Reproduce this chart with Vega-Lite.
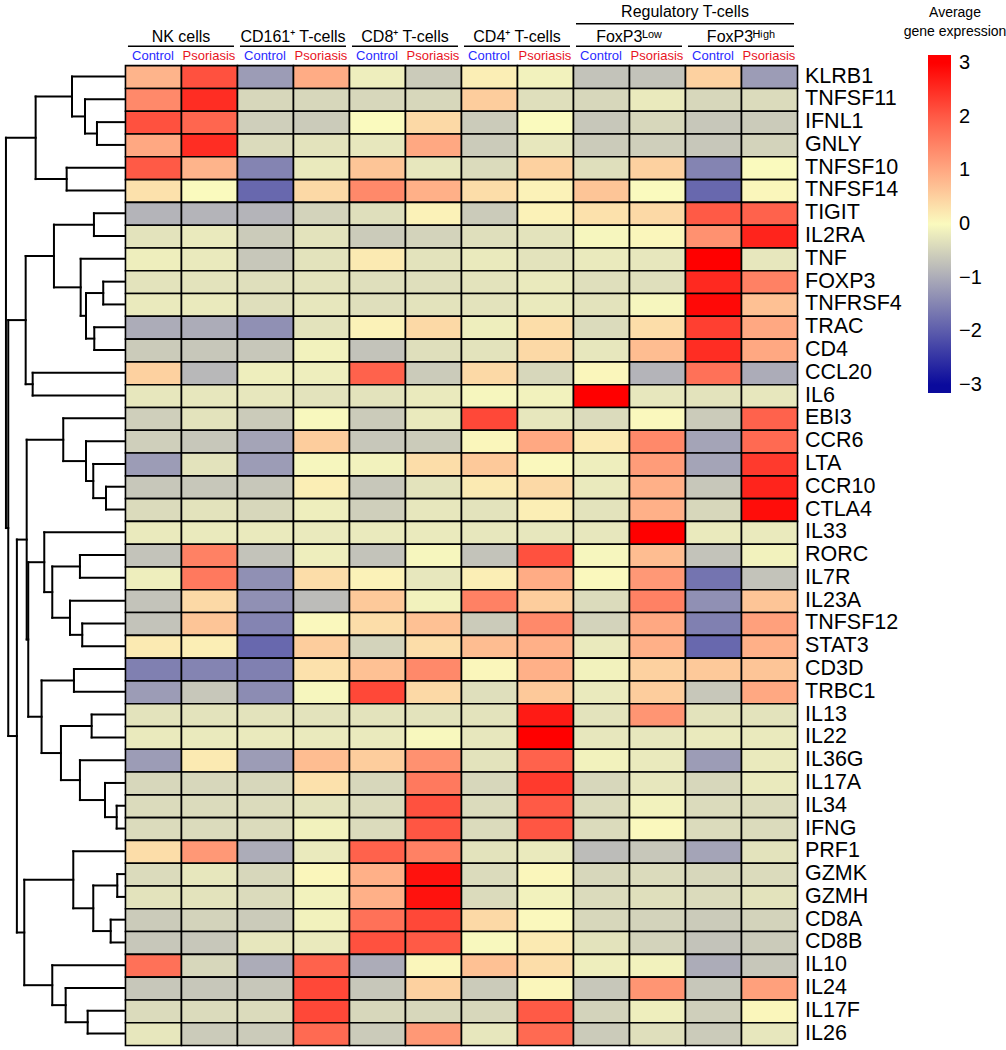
{
 "$schema": "https://vega.github.io/schema/vega-lite/v6.json",
 "width": 793,
 "height": 1045,
 "autosize": {"type": "none"},
 "padding": {"left": 4, "top": 0, "right": 209, "bottom": 5},
 "config": {"view": {"stroke": null}, "font": "Liberation Sans", "text": {"font": "Liberation Sans"}},
 "datasets": {
  "cells": [
{"gene":"KLRB1","row":0,"col":0,"value":0.85},{"gene":"KLRB1","row":0,"col":1,"value":2.1},{"gene":"KLRB1","row":0,"col":2,"value":-1.2},{"gene":"KLRB1","row":0,"col":3,"value":0.95},{"gene":"KLRB1","row":0,"col":4,"value":-0.15},{"gene":"KLRB1","row":0,"col":5,"value":-0.6},{"gene":"KLRB1","row":0,"col":6,"value":0.15},{"gene":"KLRB1","row":0,"col":7,"value":-0.1},{"gene":"KLRB1","row":0,"col":8,"value":-0.7},{"gene":"KLRB1","row":0,"col":9,"value":-0.7},{"gene":"KLRB1","row":0,"col":10,"value":0.5},{"gene":"KLRB1","row":0,"col":11,"value":-1.2},
{"gene":"TNFSF11","row":1,"col":0,"value":1.4},{"gene":"TNFSF11","row":1,"col":1,"value":2.5},{"gene":"TNFSF11","row":1,"col":2,"value":-0.45},{"gene":"TNFSF11","row":1,"col":3,"value":-0.45},{"gene":"TNFSF11","row":1,"col":4,"value":-0.45},{"gene":"TNFSF11","row":1,"col":5,"value":-0.45},{"gene":"TNFSF11","row":1,"col":6,"value":0.55},{"gene":"TNFSF11","row":1,"col":7,"value":-0.35},{"gene":"TNFSF11","row":1,"col":8,"value":-0.45},{"gene":"TNFSF11","row":1,"col":9,"value":-0.2},{"gene":"TNFSF11","row":1,"col":10,"value":-0.45},{"gene":"TNFSF11","row":1,"col":11,"value":-0.4},
{"gene":"IFNL1","row":2,"col":0,"value":2.1},{"gene":"IFNL1","row":2,"col":1,"value":1.85},{"gene":"IFNL1","row":2,"col":2,"value":-0.55},{"gene":"IFNL1","row":2,"col":3,"value":-0.6},{"gene":"IFNL1","row":2,"col":4,"value":0.0},{"gene":"IFNL1","row":2,"col":5,"value":0.4},{"gene":"IFNL1","row":2,"col":6,"value":-0.6},{"gene":"IFNL1","row":2,"col":7,"value":0.0},{"gene":"IFNL1","row":2,"col":8,"value":-0.65},{"gene":"IFNL1","row":2,"col":9,"value":-0.45},{"gene":"IFNL1","row":2,"col":10,"value":-0.65},{"gene":"IFNL1","row":2,"col":11,"value":-0.6},
{"gene":"GNLY","row":3,"col":0,"value":1.0},{"gene":"GNLY","row":3,"col":1,"value":2.5},{"gene":"GNLY","row":3,"col":2,"value":-0.4},{"gene":"GNLY","row":3,"col":3,"value":-0.3},{"gene":"GNLY","row":3,"col":4,"value":-0.25},{"gene":"GNLY","row":3,"col":5,"value":1.0},{"gene":"GNLY","row":3,"col":6,"value":-0.6},{"gene":"GNLY","row":3,"col":7,"value":-0.25},{"gene":"GNLY","row":3,"col":8,"value":-0.6},{"gene":"GNLY","row":3,"col":9,"value":-0.55},{"gene":"GNLY","row":3,"col":10,"value":-0.65},{"gene":"GNLY","row":3,"col":11,"value":-0.5},
{"gene":"TNFSF10","row":4,"col":0,"value":2.0},{"gene":"TNFSF10","row":4,"col":1,"value":0.85},{"gene":"TNFSF10","row":4,"col":2,"value":-1.5},{"gene":"TNFSF10","row":4,"col":3,"value":-0.2},{"gene":"TNFSF10","row":4,"col":4,"value":0.65},{"gene":"TNFSF10","row":4,"col":5,"value":-0.25},{"gene":"TNFSF10","row":4,"col":6,"value":-0.4},{"gene":"TNFSF10","row":4,"col":7,"value":0.5},{"gene":"TNFSF10","row":4,"col":8,"value":-0.35},{"gene":"TNFSF10","row":4,"col":9,"value":0.5},{"gene":"TNFSF10","row":4,"col":10,"value":-1.5},{"gene":"TNFSF10","row":4,"col":11,"value":0.0},
{"gene":"TNFSF14","row":5,"col":0,"value":0.3},{"gene":"TNFSF14","row":5,"col":1,"value":0.0},{"gene":"TNFSF14","row":5,"col":2,"value":-1.85},{"gene":"TNFSF14","row":5,"col":3,"value":0.4},{"gene":"TNFSF14","row":5,"col":4,"value":1.4},{"gene":"TNFSF14","row":5,"col":5,"value":0.9},{"gene":"TNFSF14","row":5,"col":6,"value":0.35},{"gene":"TNFSF14","row":5,"col":7,"value":0.1},{"gene":"TNFSF14","row":5,"col":8,"value":0.65},{"gene":"TNFSF14","row":5,"col":9,"value":0.0},{"gene":"TNFSF14","row":5,"col":10,"value":-1.85},{"gene":"TNFSF14","row":5,"col":11,"value":0.05},
{"gene":"TIGIT","row":6,"col":0,"value":-0.9},{"gene":"TIGIT","row":6,"col":1,"value":-0.9},{"gene":"TIGIT","row":6,"col":2,"value":-0.9},{"gene":"TIGIT","row":6,"col":3,"value":-0.5},{"gene":"TIGIT","row":6,"col":4,"value":-0.35},{"gene":"TIGIT","row":6,"col":5,"value":0.1},{"gene":"TIGIT","row":6,"col":6,"value":-0.6},{"gene":"TIGIT","row":6,"col":7,"value":0.1},{"gene":"TIGIT","row":6,"col":8,"value":0.3},{"gene":"TIGIT","row":6,"col":9,"value":0.4},{"gene":"TIGIT","row":6,"col":10,"value":2.0},{"gene":"TIGIT","row":6,"col":11,"value":1.9},
{"gene":"IL2RA","row":7,"col":0,"value":-0.3},{"gene":"IL2RA","row":7,"col":1,"value":-0.2},{"gene":"IL2RA","row":7,"col":2,"value":-0.6},{"gene":"IL2RA","row":7,"col":3,"value":-0.3},{"gene":"IL2RA","row":7,"col":4,"value":-0.6},{"gene":"IL2RA","row":7,"col":5,"value":-0.5},{"gene":"IL2RA","row":7,"col":6,"value":-0.35},{"gene":"IL2RA","row":7,"col":7,"value":-0.3},{"gene":"IL2RA","row":7,"col":8,"value":-0.05},{"gene":"IL2RA","row":7,"col":9,"value":0.05},{"gene":"IL2RA","row":7,"col":10,"value":1.3},{"gene":"IL2RA","row":7,"col":11,"value":2.6},
{"gene":"TNF","row":8,"col":0,"value":-0.15},{"gene":"TNF","row":8,"col":1,"value":-0.2},{"gene":"TNF","row":8,"col":2,"value":-0.65},{"gene":"TNF","row":8,"col":3,"value":-0.3},{"gene":"TNF","row":8,"col":4,"value":0.2},{"gene":"TNF","row":8,"col":5,"value":-0.3},{"gene":"TNF","row":8,"col":6,"value":-0.2},{"gene":"TNF","row":8,"col":7,"value":-0.3},{"gene":"TNF","row":8,"col":8,"value":-0.2},{"gene":"TNF","row":8,"col":9,"value":-0.25},{"gene":"TNF","row":8,"col":10,"value":3.0},{"gene":"TNF","row":8,"col":11,"value":-0.25},
{"gene":"FOXP3","row":9,"col":0,"value":-0.3},{"gene":"FOXP3","row":9,"col":1,"value":-0.3},{"gene":"FOXP3","row":9,"col":2,"value":-0.35},{"gene":"FOXP3","row":9,"col":3,"value":-0.3},{"gene":"FOXP3","row":9,"col":4,"value":-0.35},{"gene":"FOXP3","row":9,"col":5,"value":-0.35},{"gene":"FOXP3","row":9,"col":6,"value":-0.3},{"gene":"FOXP3","row":9,"col":7,"value":-0.2},{"gene":"FOXP3","row":9,"col":8,"value":-0.35},{"gene":"FOXP3","row":9,"col":9,"value":-0.35},{"gene":"FOXP3","row":9,"col":10,"value":2.55},{"gene":"FOXP3","row":9,"col":11,"value":1.5},
{"gene":"TNFRSF4","row":10,"col":0,"value":-0.2},{"gene":"TNFRSF4","row":10,"col":1,"value":-0.2},{"gene":"TNFRSF4","row":10,"col":2,"value":-0.35},{"gene":"TNFRSF4","row":10,"col":3,"value":-0.25},{"gene":"TNFRSF4","row":10,"col":4,"value":-0.35},{"gene":"TNFRSF4","row":10,"col":5,"value":-0.3},{"gene":"TNFRSF4","row":10,"col":6,"value":-0.3},{"gene":"TNFRSF4","row":10,"col":7,"value":-0.2},{"gene":"TNFRSF4","row":10,"col":8,"value":-0.3},{"gene":"TNFRSF4","row":10,"col":9,"value":-0.05},{"gene":"TNFRSF4","row":10,"col":10,"value":2.9},{"gene":"TNFRSF4","row":10,"col":11,"value":0.7},
{"gene":"TRAC","row":11,"col":0,"value":-1.0},{"gene":"TRAC","row":11,"col":1,"value":-1.0},{"gene":"TRAC","row":11,"col":2,"value":-1.35},{"gene":"TRAC","row":11,"col":3,"value":-0.3},{"gene":"TRAC","row":11,"col":4,"value":0.1},{"gene":"TRAC","row":11,"col":5,"value":0.4},{"gene":"TRAC","row":11,"col":6,"value":-0.15},{"gene":"TRAC","row":11,"col":7,"value":0.35},{"gene":"TRAC","row":11,"col":8,"value":-0.4},{"gene":"TRAC","row":11,"col":9,"value":0.35},{"gene":"TRAC","row":11,"col":10,"value":2.3},{"gene":"TRAC","row":11,"col":11,"value":1.0},
{"gene":"CD4","row":12,"col":0,"value":-0.6},{"gene":"CD4","row":12,"col":1,"value":-0.65},{"gene":"CD4","row":12,"col":2,"value":-0.65},{"gene":"CD4","row":12,"col":3,"value":-0.1},{"gene":"CD4","row":12,"col":4,"value":-0.7},{"gene":"CD4","row":12,"col":5,"value":-0.35},{"gene":"CD4","row":12,"col":6,"value":-0.3},{"gene":"CD4","row":12,"col":7,"value":0.4},{"gene":"CD4","row":12,"col":8,"value":-0.25},{"gene":"CD4","row":12,"col":9,"value":0.75},{"gene":"CD4","row":12,"col":10,"value":2.5},{"gene":"CD4","row":12,"col":11,"value":1.0},
{"gene":"CCL20","row":13,"col":0,"value":0.5},{"gene":"CCL20","row":13,"col":1,"value":-0.85},{"gene":"CCL20","row":13,"col":2,"value":-0.15},{"gene":"CCL20","row":13,"col":3,"value":-0.15},{"gene":"CCL20","row":13,"col":4,"value":1.9},{"gene":"CCL20","row":13,"col":5,"value":-0.6},{"gene":"CCL20","row":13,"col":6,"value":0.4},{"gene":"CCL20","row":13,"col":7,"value":-0.45},{"gene":"CCL20","row":13,"col":8,"value":0.05},{"gene":"CCL20","row":13,"col":9,"value":-0.9},{"gene":"CCL20","row":13,"col":10,"value":1.7},{"gene":"CCL20","row":13,"col":11,"value":-1.0},
{"gene":"IL6","row":14,"col":0,"value":-0.25},{"gene":"IL6","row":14,"col":1,"value":-0.25},{"gene":"IL6","row":14,"col":2,"value":-0.25},{"gene":"IL6","row":14,"col":3,"value":-0.3},{"gene":"IL6","row":14,"col":4,"value":-0.3},{"gene":"IL6","row":14,"col":5,"value":-0.2},{"gene":"IL6","row":14,"col":6,"value":-0.05},{"gene":"IL6","row":14,"col":7,"value":-0.1},{"gene":"IL6","row":14,"col":8,"value":3.0},{"gene":"IL6","row":14,"col":9,"value":-0.25},{"gene":"IL6","row":14,"col":10,"value":-0.3},{"gene":"IL6","row":14,"col":11,"value":-0.25},
{"gene":"EBI3","row":15,"col":0,"value":-0.55},{"gene":"EBI3","row":15,"col":1,"value":-0.3},{"gene":"EBI3","row":15,"col":2,"value":-0.6},{"gene":"EBI3","row":15,"col":3,"value":-0.02},{"gene":"EBI3","row":15,"col":4,"value":-0.6},{"gene":"EBI3","row":15,"col":5,"value":-0.2},{"gene":"EBI3","row":15,"col":6,"value":2.2},{"gene":"EBI3","row":15,"col":7,"value":-0.25},{"gene":"EBI3","row":15,"col":8,"value":-0.4},{"gene":"EBI3","row":15,"col":9,"value":0.02},{"gene":"EBI3","row":15,"col":10,"value":-0.6},{"gene":"EBI3","row":15,"col":11,"value":1.9},
{"gene":"CCR6","row":16,"col":0,"value":-0.55},{"gene":"CCR6","row":16,"col":1,"value":-0.65},{"gene":"CCR6","row":16,"col":2,"value":-1.1},{"gene":"CCR6","row":16,"col":3,"value":0.55},{"gene":"CCR6","row":16,"col":4,"value":-0.65},{"gene":"CCR6","row":16,"col":5,"value":-0.6},{"gene":"CCR6","row":16,"col":6,"value":0.05},{"gene":"CCR6","row":16,"col":7,"value":1.0},{"gene":"CCR6","row":16,"col":8,"value":0.2},{"gene":"CCR6","row":16,"col":9,"value":1.4},{"gene":"CCR6","row":16,"col":10,"value":-1.1},{"gene":"CCR6","row":16,"col":11,"value":1.8},
{"gene":"LTA","row":17,"col":0,"value":-1.2},{"gene":"LTA","row":17,"col":1,"value":-0.3},{"gene":"LTA","row":17,"col":2,"value":-1.2},{"gene":"LTA","row":17,"col":3,"value":-0.05},{"gene":"LTA","row":17,"col":4,"value":-0.1},{"gene":"LTA","row":17,"col":5,"value":0.35},{"gene":"LTA","row":17,"col":6,"value":0.6},{"gene":"LTA","row":17,"col":7,"value":0.02},{"gene":"LTA","row":17,"col":8,"value":-0.15},{"gene":"LTA","row":17,"col":9,"value":1.15},{"gene":"LTA","row":17,"col":10,"value":-1.1},{"gene":"LTA","row":17,"col":11,"value":2.35},
{"gene":"CCR10","row":18,"col":0,"value":-0.65},{"gene":"CCR10","row":18,"col":1,"value":-0.65},{"gene":"CCR10","row":18,"col":2,"value":-0.65},{"gene":"CCR10","row":18,"col":3,"value":0.15},{"gene":"CCR10","row":18,"col":4,"value":-0.65},{"gene":"CCR10","row":18,"col":5,"value":-0.3},{"gene":"CCR10","row":18,"col":6,"value":0.2},{"gene":"CCR10","row":18,"col":7,"value":0.4},{"gene":"CCR10","row":18,"col":8,"value":-0.2},{"gene":"CCR10","row":18,"col":9,"value":0.9},{"gene":"CCR10","row":18,"col":10,"value":-0.65},{"gene":"CCR10","row":18,"col":11,"value":2.6},
{"gene":"CTLA4","row":19,"col":0,"value":-0.4},{"gene":"CTLA4","row":19,"col":1,"value":-0.3},{"gene":"CTLA4","row":19,"col":2,"value":-0.45},{"gene":"CTLA4","row":19,"col":3,"value":-0.15},{"gene":"CTLA4","row":19,"col":4,"value":-0.55},{"gene":"CTLA4","row":19,"col":5,"value":-0.25},{"gene":"CTLA4","row":19,"col":6,"value":-0.3},{"gene":"CTLA4","row":19,"col":7,"value":0.15},{"gene":"CTLA4","row":19,"col":8,"value":-0.3},{"gene":"CTLA4","row":19,"col":9,"value":0.9},{"gene":"CTLA4","row":19,"col":10,"value":-0.45},{"gene":"CTLA4","row":19,"col":11,"value":2.85},
{"gene":"IL33","row":20,"col":0,"value":-0.2},{"gene":"IL33","row":20,"col":1,"value":-0.2},{"gene":"IL33","row":20,"col":2,"value":-0.2},{"gene":"IL33","row":20,"col":3,"value":-0.2},{"gene":"IL33","row":20,"col":4,"value":-0.2},{"gene":"IL33","row":20,"col":5,"value":-0.2},{"gene":"IL33","row":20,"col":6,"value":-0.25},{"gene":"IL33","row":20,"col":7,"value":-0.25},{"gene":"IL33","row":20,"col":8,"value":-0.25},{"gene":"IL33","row":20,"col":9,"value":3.0},{"gene":"IL33","row":20,"col":10,"value":-0.2},{"gene":"IL33","row":20,"col":11,"value":-0.2},
{"gene":"RORC","row":21,"col":0,"value":-0.7},{"gene":"RORC","row":21,"col":1,"value":1.5},{"gene":"RORC","row":21,"col":2,"value":-0.7},{"gene":"RORC","row":21,"col":3,"value":-0.15},{"gene":"RORC","row":21,"col":4,"value":-0.7},{"gene":"RORC","row":21,"col":5,"value":-0.05},{"gene":"RORC","row":21,"col":6,"value":-0.7},{"gene":"RORC","row":21,"col":7,"value":2.1},{"gene":"RORC","row":21,"col":8,"value":-0.05},{"gene":"RORC","row":21,"col":9,"value":0.75},{"gene":"RORC","row":21,"col":10,"value":-0.7},{"gene":"RORC","row":21,"col":11,"value":-0.1},
{"gene":"IL7R","row":22,"col":0,"value":-0.15},{"gene":"IL7R","row":22,"col":1,"value":1.6},{"gene":"IL7R","row":22,"col":2,"value":-1.35},{"gene":"IL7R","row":22,"col":3,"value":0.35},{"gene":"IL7R","row":22,"col":4,"value":0.1},{"gene":"IL7R","row":22,"col":5,"value":-0.25},{"gene":"IL7R","row":22,"col":6,"value":0.15},{"gene":"IL7R","row":22,"col":7,"value":0.95},{"gene":"IL7R","row":22,"col":8,"value":0.02},{"gene":"IL7R","row":22,"col":9,"value":1.2},{"gene":"IL7R","row":22,"col":10,"value":-1.7},{"gene":"IL7R","row":22,"col":11,"value":-0.7},
{"gene":"IL23A","row":23,"col":0,"value":-0.7},{"gene":"IL23A","row":23,"col":1,"value":0.4},{"gene":"IL23A","row":23,"col":2,"value":-1.35},{"gene":"IL23A","row":23,"col":3,"value":-0.8},{"gene":"IL23A","row":23,"col":4,"value":0.6},{"gene":"IL23A","row":23,"col":5,"value":-0.1},{"gene":"IL23A","row":23,"col":6,"value":1.5},{"gene":"IL23A","row":23,"col":7,"value":0.55},{"gene":"IL23A","row":23,"col":8,"value":-0.4},{"gene":"IL23A","row":23,"col":9,"value":1.5},{"gene":"IL23A","row":23,"col":10,"value":-1.35},{"gene":"IL23A","row":23,"col":11,"value":0.65},
{"gene":"TNFSF12","row":24,"col":0,"value":-0.7},{"gene":"TNFSF12","row":24,"col":1,"value":0.65},{"gene":"TNFSF12","row":24,"col":2,"value":-1.5},{"gene":"TNFSF12","row":24,"col":3,"value":0.02},{"gene":"TNFSF12","row":24,"col":4,"value":0.35},{"gene":"TNFSF12","row":24,"col":5,"value":0.7},{"gene":"TNFSF12","row":24,"col":6,"value":-0.6},{"gene":"TNFSF12","row":24,"col":7,"value":1.4},{"gene":"TNFSF12","row":24,"col":8,"value":-0.5},{"gene":"TNFSF12","row":24,"col":9,"value":1.0},{"gene":"TNFSF12","row":24,"col":10,"value":-1.55},{"gene":"TNFSF12","row":24,"col":11,"value":1.1},
{"gene":"STAT3","row":25,"col":0,"value":0.2},{"gene":"STAT3","row":25,"col":1,"value":0.15},{"gene":"STAT3","row":25,"col":2,"value":-1.85},{"gene":"STAT3","row":25,"col":3,"value":0.55},{"gene":"STAT3","row":25,"col":4,"value":-0.5},{"gene":"STAT3","row":25,"col":5,"value":0.35},{"gene":"STAT3","row":25,"col":6,"value":0.75},{"gene":"STAT3","row":25,"col":7,"value":0.9},{"gene":"STAT3","row":25,"col":8,"value":-0.2},{"gene":"STAT3","row":25,"col":9,"value":0.9},{"gene":"STAT3","row":25,"col":10,"value":-1.85},{"gene":"STAT3","row":25,"col":11,"value":0.9},
{"gene":"CD3D","row":26,"col":0,"value":-1.55},{"gene":"CD3D","row":26,"col":1,"value":-1.5},{"gene":"CD3D","row":26,"col":2,"value":-1.55},{"gene":"CD3D","row":26,"col":3,"value":0.3},{"gene":"CD3D","row":26,"col":4,"value":0.7},{"gene":"CD3D","row":26,"col":5,"value":1.4},{"gene":"CD3D","row":26,"col":6,"value":0.05},{"gene":"CD3D","row":26,"col":7,"value":0.9},{"gene":"CD3D","row":26,"col":8,"value":-0.1},{"gene":"CD3D","row":26,"col":9,"value":0.5},{"gene":"CD3D","row":26,"col":10,"value":0.6},{"gene":"CD3D","row":26,"col":11,"value":0.65},
{"gene":"TRBC1","row":27,"col":0,"value":-1.2},{"gene":"TRBC1","row":27,"col":1,"value":-0.65},{"gene":"TRBC1","row":27,"col":2,"value":-1.4},{"gene":"TRBC1","row":27,"col":3,"value":-0.05},{"gene":"TRBC1","row":27,"col":4,"value":2.2},{"gene":"TRBC1","row":27,"col":5,"value":0.4},{"gene":"TRBC1","row":27,"col":6,"value":-0.35},{"gene":"TRBC1","row":27,"col":7,"value":0.6},{"gene":"TRBC1","row":27,"col":8,"value":-0.2},{"gene":"TRBC1","row":27,"col":9,"value":0.55},{"gene":"TRBC1","row":27,"col":10,"value":-0.65},{"gene":"TRBC1","row":27,"col":11,"value":1.0},
{"gene":"IL13","row":28,"col":0,"value":-0.3},{"gene":"IL13","row":28,"col":1,"value":-0.3},{"gene":"IL13","row":28,"col":2,"value":-0.3},{"gene":"IL13","row":28,"col":3,"value":-0.3},{"gene":"IL13","row":28,"col":4,"value":-0.3},{"gene":"IL13","row":28,"col":5,"value":-0.3},{"gene":"IL13","row":28,"col":6,"value":-0.3},{"gene":"IL13","row":28,"col":7,"value":2.7},{"gene":"IL13","row":28,"col":8,"value":-0.3},{"gene":"IL13","row":28,"col":9,"value":1.25},{"gene":"IL13","row":28,"col":10,"value":-0.3},{"gene":"IL13","row":28,"col":11,"value":-0.3},
{"gene":"IL22","row":29,"col":0,"value":-0.2},{"gene":"IL22","row":29,"col":1,"value":-0.2},{"gene":"IL22","row":29,"col":2,"value":-0.2},{"gene":"IL22","row":29,"col":3,"value":-0.2},{"gene":"IL22","row":29,"col":4,"value":-0.2},{"gene":"IL22","row":29,"col":5,"value":-0.02},{"gene":"IL22","row":29,"col":6,"value":-0.25},{"gene":"IL22","row":29,"col":7,"value":3.0},{"gene":"IL22","row":29,"col":8,"value":-0.25},{"gene":"IL22","row":29,"col":9,"value":-0.25},{"gene":"IL22","row":29,"col":10,"value":-0.2},{"gene":"IL22","row":29,"col":11,"value":-0.2},
{"gene":"IL36G","row":30,"col":0,"value":-1.2},{"gene":"IL36G","row":30,"col":1,"value":0.2},{"gene":"IL36G","row":30,"col":2,"value":-1.2},{"gene":"IL36G","row":30,"col":3,"value":0.75},{"gene":"IL36G","row":30,"col":4,"value":0.55},{"gene":"IL36G","row":30,"col":5,"value":1.3},{"gene":"IL36G","row":30,"col":6,"value":-0.3},{"gene":"IL36G","row":30,"col":7,"value":1.9},{"gene":"IL36G","row":30,"col":8,"value":-0.1},{"gene":"IL36G","row":30,"col":9,"value":-0.2},{"gene":"IL36G","row":30,"col":10,"value":-1.2},{"gene":"IL36G","row":30,"col":11,"value":-0.2},
{"gene":"IL17A","row":31,"col":0,"value":-0.45},{"gene":"IL17A","row":31,"col":1,"value":-0.45},{"gene":"IL17A","row":31,"col":2,"value":-0.45},{"gene":"IL17A","row":31,"col":3,"value":0.3},{"gene":"IL17A","row":31,"col":4,"value":-0.45},{"gene":"IL17A","row":31,"col":5,"value":1.6},{"gene":"IL17A","row":31,"col":6,"value":-0.45},{"gene":"IL17A","row":31,"col":7,"value":2.35},{"gene":"IL17A","row":31,"col":8,"value":-0.45},{"gene":"IL17A","row":31,"col":9,"value":-0.25},{"gene":"IL17A","row":31,"col":10,"value":-0.45},{"gene":"IL17A","row":31,"col":11,"value":-0.2},
{"gene":"IL34","row":32,"col":0,"value":-0.4},{"gene":"IL34","row":32,"col":1,"value":-0.4},{"gene":"IL34","row":32,"col":2,"value":-0.4},{"gene":"IL34","row":32,"col":3,"value":-0.3},{"gene":"IL34","row":32,"col":4,"value":-0.4},{"gene":"IL34","row":32,"col":5,"value":2.1},{"gene":"IL34","row":32,"col":6,"value":-0.4},{"gene":"IL34","row":32,"col":7,"value":2.0},{"gene":"IL34","row":32,"col":8,"value":-0.4},{"gene":"IL34","row":32,"col":9,"value":-0.1},{"gene":"IL34","row":32,"col":10,"value":-0.4},{"gene":"IL34","row":32,"col":11,"value":-0.4},
{"gene":"IFNG","row":33,"col":0,"value":-0.4},{"gene":"IFNG","row":33,"col":1,"value":-0.4},{"gene":"IFNG","row":33,"col":2,"value":-0.4},{"gene":"IFNG","row":33,"col":3,"value":-0.1},{"gene":"IFNG","row":33,"col":4,"value":-0.4},{"gene":"IFNG","row":33,"col":5,"value":2.05},{"gene":"IFNG","row":33,"col":6,"value":-0.4},{"gene":"IFNG","row":33,"col":7,"value":2.05},{"gene":"IFNG","row":33,"col":8,"value":-0.4},{"gene":"IFNG","row":33,"col":9,"value":0.02},{"gene":"IFNG","row":33,"col":10,"value":-0.4},{"gene":"IFNG","row":33,"col":11,"value":-0.4},
{"gene":"PRF1","row":34,"col":0,"value":0.35},{"gene":"PRF1","row":34,"col":1,"value":1.2},{"gene":"PRF1","row":34,"col":2,"value":-1.0},{"gene":"PRF1","row":34,"col":3,"value":-0.2},{"gene":"PRF1","row":34,"col":4,"value":1.9},{"gene":"PRF1","row":34,"col":5,"value":1.5},{"gene":"PRF1","row":34,"col":6,"value":-0.3},{"gene":"PRF1","row":34,"col":7,"value":-0.2},{"gene":"PRF1","row":34,"col":8,"value":-0.8},{"gene":"PRF1","row":34,"col":9,"value":-0.65},{"gene":"PRF1","row":34,"col":10,"value":-1.1},{"gene":"PRF1","row":34,"col":11,"value":-0.3},
{"gene":"GZMK","row":35,"col":0,"value":-0.4},{"gene":"GZMK","row":35,"col":1,"value":-0.25},{"gene":"GZMK","row":35,"col":2,"value":-0.45},{"gene":"GZMK","row":35,"col":3,"value":0.05},{"gene":"GZMK","row":35,"col":4,"value":0.9},{"gene":"GZMK","row":35,"col":5,"value":2.8},{"gene":"GZMK","row":35,"col":6,"value":-0.4},{"gene":"GZMK","row":35,"col":7,"value":0.05},{"gene":"GZMK","row":35,"col":8,"value":-0.45},{"gene":"GZMK","row":35,"col":9,"value":-0.4},{"gene":"GZMK","row":35,"col":10,"value":-0.45},{"gene":"GZMK","row":35,"col":11,"value":-0.4},
{"gene":"GZMH","row":36,"col":0,"value":-0.3},{"gene":"GZMH","row":36,"col":1,"value":-0.3},{"gene":"GZMH","row":36,"col":2,"value":-0.4},{"gene":"GZMH","row":36,"col":3,"value":-0.1},{"gene":"GZMH","row":36,"col":4,"value":0.9},{"gene":"GZMH","row":36,"col":5,"value":2.8},{"gene":"GZMH","row":36,"col":6,"value":-0.4},{"gene":"GZMH","row":36,"col":7,"value":-0.1},{"gene":"GZMH","row":36,"col":8,"value":-0.4},{"gene":"GZMH","row":36,"col":9,"value":-0.35},{"gene":"GZMH","row":36,"col":10,"value":-0.4},{"gene":"GZMH","row":36,"col":11,"value":-0.3},
{"gene":"CD8A","row":37,"col":0,"value":-0.6},{"gene":"CD8A","row":37,"col":1,"value":-0.5},{"gene":"CD8A","row":37,"col":2,"value":-0.6},{"gene":"CD8A","row":37,"col":3,"value":-0.1},{"gene":"CD8A","row":37,"col":4,"value":1.7},{"gene":"CD8A","row":37,"col":5,"value":2.2},{"gene":"CD8A","row":37,"col":6,"value":0.4},{"gene":"CD8A","row":37,"col":7,"value":0.02},{"gene":"CD8A","row":37,"col":8,"value":-0.45},{"gene":"CD8A","row":37,"col":9,"value":-0.5},{"gene":"CD8A","row":37,"col":10,"value":-0.6},{"gene":"CD8A","row":37,"col":11,"value":-0.5},
{"gene":"CD8B","row":38,"col":0,"value":-0.65},{"gene":"CD8B","row":38,"col":1,"value":-0.65},{"gene":"CD8B","row":38,"col":2,"value":-0.25},{"gene":"CD8B","row":38,"col":3,"value":-0.2},{"gene":"CD8B","row":38,"col":4,"value":2.1},{"gene":"CD8B","row":38,"col":5,"value":2.0},{"gene":"CD8B","row":38,"col":6,"value":-0.02},{"gene":"CD8B","row":38,"col":7,"value":0.2},{"gene":"CD8B","row":38,"col":8,"value":-0.3},{"gene":"CD8B","row":38,"col":9,"value":-0.5},{"gene":"CD8B","row":38,"col":10,"value":-0.7},{"gene":"CD8B","row":38,"col":11,"value":-0.6},
{"gene":"IL10","row":39,"col":0,"value":1.7},{"gene":"IL10","row":39,"col":1,"value":-0.45},{"gene":"IL10","row":39,"col":2,"value":-1.0},{"gene":"IL10","row":39,"col":3,"value":1.9},{"gene":"IL10","row":39,"col":4,"value":-1.0},{"gene":"IL10","row":39,"col":5,"value":0.05},{"gene":"IL10","row":39,"col":6,"value":0.7},{"gene":"IL10","row":39,"col":7,"value":0.35},{"gene":"IL10","row":39,"col":8,"value":-0.15},{"gene":"IL10","row":39,"col":9,"value":-0.1},{"gene":"IL10","row":39,"col":10,"value":-1.0},{"gene":"IL10","row":39,"col":11,"value":-0.65},
{"gene":"IL24","row":40,"col":0,"value":-0.65},{"gene":"IL24","row":40,"col":1,"value":-0.65},{"gene":"IL24","row":40,"col":2,"value":-0.65},{"gene":"IL24","row":40,"col":3,"value":2.2},{"gene":"IL24","row":40,"col":4,"value":-0.65},{"gene":"IL24","row":40,"col":5,"value":0.5},{"gene":"IL24","row":40,"col":6,"value":-0.6},{"gene":"IL24","row":40,"col":7,"value":0.05},{"gene":"IL24","row":40,"col":8,"value":-0.65},{"gene":"IL24","row":40,"col":9,"value":1.25},{"gene":"IL24","row":40,"col":10,"value":-0.65},{"gene":"IL24","row":40,"col":11,"value":1.1},
{"gene":"IL17F","row":41,"col":0,"value":-0.4},{"gene":"IL17F","row":41,"col":1,"value":-0.4},{"gene":"IL17F","row":41,"col":2,"value":-0.4},{"gene":"IL17F","row":41,"col":3,"value":2.2},{"gene":"IL17F","row":41,"col":4,"value":-0.45},{"gene":"IL17F","row":41,"col":5,"value":-0.45},{"gene":"IL17F","row":41,"col":6,"value":-0.45},{"gene":"IL17F","row":41,"col":7,"value":2.0},{"gene":"IL17F","row":41,"col":8,"value":-0.5},{"gene":"IL17F","row":41,"col":9,"value":-0.15},{"gene":"IL17F","row":41,"col":10,"value":-0.55},{"gene":"IL17F","row":41,"col":11,"value":0.05},
{"gene":"IL26","row":42,"col":0,"value":-0.25},{"gene":"IL26","row":42,"col":1,"value":-0.6},{"gene":"IL26","row":42,"col":2,"value":-0.6},{"gene":"IL26","row":42,"col":3,"value":1.8},{"gene":"IL26","row":42,"col":4,"value":-0.6},{"gene":"IL26","row":42,"col":5,"value":1.2},{"gene":"IL26","row":42,"col":6,"value":-0.25},{"gene":"IL26","row":42,"col":7,"value":1.8},{"gene":"IL26","row":42,"col":8,"value":-0.6},{"gene":"IL26","row":42,"col":9,"value":-0.35},{"gene":"IL26","row":42,"col":10,"value":-0.6},{"gene":"IL26","row":42,"col":11,"value":-0.25}
  ],
  "tree": [
{"h":-0.5,"y1":2.5,"h1":0,"y2":3.5,"h2":0},
{"h":-0.714,"y1":1.5,"h1":0,"y2":3.0,"h2":-0.5},
{"h":-0.946,"y1":0.5,"h1":0,"y2":2.25,"h2":-0.714},
{"h":-1.041,"y1":4.5,"h1":0,"y2":5.5,"h2":0},
{"h":-1.595,"y1":1.375,"h1":-0.946,"y2":5.0,"h2":-1.041},
{"h":-0.554,"y1":6.5,"h1":0,"y2":7.5,"h2":0},
{"h":-0.388,"y1":9.5,"h1":0,"y2":10.5,"h2":0},
{"h":-0.548,"y1":11.5,"h1":0,"y2":12.5,"h2":0},
{"h":-0.696,"y1":10.0,"h1":-0.388,"y2":12.0,"h2":-0.548},
{"h":-0.791,"y1":8.5,"h1":0,"y2":11.0,"h2":-0.696},
{"h":-1.268,"y1":7.0,"h1":-0.554,"y2":9.75,"h2":-0.791},
{"h":-1.648,"y1":13.5,"h1":0,"y2":14.5,"h2":0},
{"h":-1.773,"y1":8.375,"h1":-1.268,"y2":14.0,"h2":-1.648},
{"h":-0.339,"y1":18.5,"h1":0,"y2":19.5,"h2":0},
{"h":-0.566,"y1":17.5,"h1":0,"y2":19.0,"h2":-0.339},
{"h":-0.696,"y1":16.5,"h1":0,"y2":18.25,"h2":-0.566},
{"h":-1.102,"y1":15.5,"h1":0,"y2":17.375,"h2":-0.696},
{"h":-0.804,"y1":21.5,"h1":0,"y2":22.5,"h2":0},
{"h":-0.763,"y1":24.5,"h1":0,"y2":25.5,"h2":0},
{"h":-0.982,"y1":23.5,"h1":0,"y2":25.0,"h2":-0.763},
{"h":-1.298,"y1":22.0,"h1":-0.804,"y2":24.25,"h2":-0.982},
{"h":-1.441,"y1":20.5,"h1":0,"y2":23.125,"h2":-1.298},
{"h":-0.911,"y1":26.5,"h1":0,"y2":27.5,"h2":0},
{"h":-0.595,"y1":28.5,"h1":0,"y2":29.5,"h2":0},
{"h":-0.148,"y1":32.5,"h1":0,"y2":33.5,"h2":0},
{"h":-0.357,"y1":31.5,"h1":0,"y2":33.0,"h2":-0.148},
{"h":-0.804,"y1":30.5,"h1":0,"y2":32.25,"h2":-0.357},
{"h":-1.143,"y1":29.0,"h1":-0.595,"y2":31.375,"h2":-0.804},
{"h":-1.489,"y1":27.0,"h1":-0.911,"y2":30.1875,"h2":-1.143},
{"h":-1.727,"y1":21.8125,"h1":-1.441,"y2":28.59375,"h2":-1.489},
{"h":-1.755,"y1":16.4375,"h1":-1.102,"y2":25.203,"h2":-1.727},
{"h":-0.1375,"y1":35.5,"h1":0,"y2":36.5,"h2":0},
{"h":-0.255,"y1":37.5,"h1":0,"y2":38.5,"h2":0},
{"h":-0.566,"y1":36.0,"h1":-0.1375,"y2":38.0,"h2":-0.255},
{"h":-0.923,"y1":34.5,"h1":0,"y2":37.0,"h2":-0.566},
{"h":-0.666,"y1":41.5,"h1":0,"y2":42.5,"h2":0},
{"h":-1.059,"y1":40.5,"h1":0,"y2":42.0,"h2":-0.666},
{"h":-1.298,"y1":39.5,"h1":0,"y2":41.25,"h2":-1.059},
{"h":-1.798,"y1":35.75,"h1":-0.923,"y2":40.375,"h2":-1.298},
{"h":-1.93,"y1":20.82,"h1":-1.755,"y2":38.0625,"h2":-1.798},
{"h":-2.084,"y1":11.1875,"h1":-1.773,"y2":29.441,"h2":-1.93},
{"h":-2.125,"y1":3.1875,"h1":-1.595,"y2":20.314,"h2":-2.084}
  ],
  "groups": [
{"group":"NK cells","start":0,"end":2,"mid":1},
{"group":"CD161⁺ T-cells","start":2,"end":4,"mid":3},
{"group":"CD8⁺ T-cells","start":4,"end":6,"mid":5},
{"group":"CD4⁺ T-cells","start":6,"end":8,"mid":7},
{"group":"FoxP3ᴸᵒʷ","start":8,"end":10,"mid":9},
{"group":"FoxP3ᴴⁱᵍʰ","start":10,"end":12,"mid":11}
  ],
  "super": [
{"group":"Regulatory T-cells","start":8,"end":12,"mid":10}
  ],
  "cols": [
{"col":0,"cond":"Control"},{"col":1,"cond":"Psoriasis"},{"col":2,"cond":"Control"},{"col":3,"cond":"Psoriasis"},{"col":4,"cond":"Control"},{"col":5,"cond":"Psoriasis"},{"col":6,"cond":"Control"},{"col":7,"cond":"Psoriasis"},{"col":8,"cond":"Control"},{"col":9,"cond":"Psoriasis"},{"col":10,"cond":"Control"},{"col":11,"cond":"Psoriasis"}
  ]
 },
 "layer": [
  {
   "data": {"name": "cells"},
   "mark": {"type": "rect", "stroke": "black", "strokeWidth": 1.6, "binSpacing": 0},
   "encoding": {
    "x": {"field": "col", "type": "quantitative", "bin": {"binned": true, "step": 1}, "scale": {"domain": [-2.16, 12], "nice": false, "zero": false}, "axis": null},
    "y": {"field": "row", "type": "quantitative", "bin": {"binned": true, "step": 1}, "scale": {"domain": [-2.86, 43], "nice": false, "zero": false, "reverse": true}, "axis": null},
    "color": {"field": "value", "type": "quantitative",
      "scale": {"domain": [-3.15, -3, -2, -1, 0, 1, 2, 3, 3.15], "range": ["#0a0a9c", "#0a0a9c", "#5c5cac", "#acacb8", "#fafabe", "#ffa882", "#ff5a46", "#ff0000", "#ff0000"], "interpolate": "rgb"},
      "legend": {"orient": "none", "legendX": 900, "legendY": 6, "title": ["Average", "gene expression"], "titleFontSize": 14, "titleLineHeight": 19, "titleFontWeight": "normal", "titleColor": "black", "titleAnchor": "middle", "titleAlign": "center", "titleLimit": 300, "titlePadding": 16, "gradientLength": 338, "gradientThickness": 23, "gradientStrokeWidth": 0, "labelFontSize": 20, "labelColor": "black", "labelOffset": 8, "values": [3, 2, 1, 0, -1, -2, -3], "direction": "vertical"}}
   }
  },
  {
   "data": {"name": "tree"},
   "mark": {"type": "rule", "color": "black", "strokeWidth": 2, "strokeCap": "square"},
   "encoding": {"x": {"field": "h", "type": "quantitative"}, "y": {"field": "y1", "type": "quantitative"}, "y2": {"field": "y2"}}
  },
  {
   "data": {"name": "tree"},
   "mark": {"type": "rule", "color": "black", "strokeWidth": 2, "strokeCap": "square"},
   "encoding": {"x": {"field": "h1", "type": "quantitative"}, "x2": {"field": "h"}, "y": {"field": "y1", "type": "quantitative"}}
  },
  {
   "data": {"name": "tree"},
   "mark": {"type": "rule", "color": "black", "strokeWidth": 2, "strokeCap": "square"},
   "encoding": {"x": {"field": "h2", "type": "quantitative"}, "x2": {"field": "h"}, "y": {"field": "y2", "type": "quantitative"}}
  },
  {
   "data": {"name": "cells"},
   "transform": [{"filter": "datum.col === 0"}],
   "mark": {"type": "text", "align": "left", "baseline": "middle", "dx": 8, "fontSize": 21.5, "font": "Liberation Sans", "color": "black"},
   "encoding": {
    "x": {"datum": 12, "type": "quantitative"},
    "y": {"field": "row", "type": "quantitative", "bin": {"step": 1, "extent": [0, 43], "nice": false}, "bandPosition": 0.5},
    "text": {"field": "gene"}
   }
  },
  {
   "data": {"name": "cols"},
   "mark": {"type": "text", "align": "center", "baseline": "middle", "fontSize": 13},
   "encoding": {
    "x": {"field": "col", "type": "quantitative", "bin": {"step": 1, "extent": [0, 12], "nice": false}, "bandPosition": 0.5},
    "y": {"datum": -0.42, "type": "quantitative"},
    "text": {"field": "cond"},
    "color": {"condition": {"test": "datum.cond === 'Control'", "value": "#2a2aff"}, "value": "#e8141e"}
   }
  },
  {
   "data": {"name": "groups"},
   "mark": {"type": "rule", "color": "black", "strokeWidth": 1.6, "xOffset": 3, "x2Offset": -3},
   "encoding": {"x": {"field": "start", "type": "quantitative"}, "x2": {"field": "end"}, "y": {"datum": -0.83, "type": "quantitative"}}
  },
  {
   "data": {"name": "groups"},
   "mark": {"type": "text", "align": "center", "baseline": "middle", "fontSize": 16, "color": "black"},
   "encoding": {"x": {"field": "mid", "type": "quantitative"}, "y": {"datum": -1.25, "type": "quantitative"}, "text": {"field": "group"}}
  },
  {
   "data": {"name": "super"},
   "mark": {"type": "rule", "color": "black", "strokeWidth": 1.6, "xOffset": 3, "x2Offset": -3},
   "encoding": {"x": {"field": "start", "type": "quantitative"}, "x2": {"field": "end"}, "y": {"datum": -1.82, "type": "quantitative"}}
  },
  {
   "data": {"name": "super"},
   "mark": {"type": "text", "align": "center", "baseline": "middle", "fontSize": 16, "color": "black"},
   "encoding": {"x": {"field": "mid", "type": "quantitative"}, "y": {"datum": -2.33, "type": "quantitative"}, "text": {"field": "group"}}
  }
 ]
}
